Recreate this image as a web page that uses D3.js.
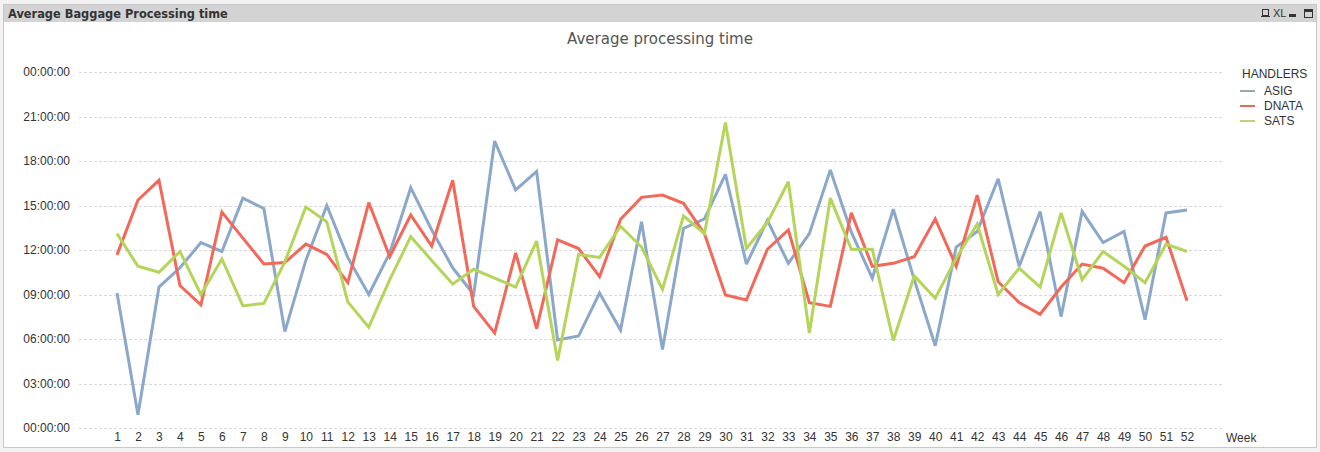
<!DOCTYPE html>
<html><head><meta charset="utf-8">
<script src="https://cdn.jsdelivr.net/npm/d3@7"></script>
<style>
html,body{margin:0;padding:0;background:#f2f2f2;}
svg{display:block;}
</style></head>
<body>
<svg id="c" width="1320" height="452"></svg>
<script>
const weeks = d3.range(1, 53);
const handlers = ["ASIG", "DNATA", "SATS"];
const colors = ["#8ba8cb", "#f2695a", "#b5d55a"];
const legendColors = ["#98a6b6", "#e9685c", "#c3cf7c"];
// values in hours
const asig = [9.1,0.9,9.5,10.8,12.5,11.9,15.5,14.8,6.5,11.3,15.0,11.5,9.0,11.8,16.2,13.35,10.8,9.0,19.35,16.05,17.3,5.93,6.2,9.1,6.6,13.9,5.3,13.45,14.1,17.1,11.05,14.0,11.1,13.1,17.4,13.2,10.1,14.75,10.0,5.55,12.2,13.25,16.8,10.9,14.6,7.5,14.6,12.5,13.25,7.3,14.5,14.7];
const dnata = [11.67,15.37,16.7,9.6,8.3,14.55,12.8,11.06,11.15,12.4,11.7,9.8,15.2,11.55,14.36,12.27,16.7,8.2,6.4,11.8,6.7,12.68,12.1,10.2,14.07,15.55,15.7,15.15,13.1,8.97,8.63,12.05,13.35,8.45,8.2,14.5,10.9,11.1,11.55,14.1,10.9,15.7,9.86,8.45,7.67,9.5,11.05,10.77,9.8,12.27,12.86,8.58];
const sats = [13.1,10.9,10.5,11.9,9.0,11.4,8.23,8.4,11.2,14.9,13.9,8.5,6.8,10.0,12.9,11.3,9.7,10.7,10.1,9.5,12.6,4.55,11.7,11.5,13.6,12.2,9.35,14.3,13.1,20.6,12.1,13.85,16.6,6.4,15.5,12.05,12.05,5.9,10.25,8.75,11.45,13.75,9.0,10.77,9.5,14.5,10.0,11.9,10.9,9.8,12.4,11.9];
const seriesValues = [asig, dnata, sats];
const yTicks = [0,3,6,9,12,15,18,21,24];

const svg = d3.select("#c");
// panel
svg.append("rect").attr("x",3.5).attr("y",4.5).attr("width",1313).attr("height",443)
  .attr("fill","#fff").attr("stroke","#c8c8c8");
svg.append("rect").attr("x",4).attr("y",5).attr("width",1312).attr("height",17).attr("fill","#d3d3d3");
svg.append("text").attr("x",8).attr("y",18).text("Average Baggage Processing time")
  .attr("font-family","DejaVu Sans").attr("font-weight","bold").attr("font-size",11.4).attr("fill","#333");
// window icons
const ic = svg.append("g").attr("fill","none").attr("stroke","#333");
ic.append("rect").attr("x",1262.5).attr("y",9.5).attr("width",6).attr("height",6);
ic.append("line").attr("x1",1261).attr("x2",1270).attr("y1",16.5).attr("y2",16.5);
svg.append("text").attr("x",1273).attr("y",17).text("XL").attr("font-family","Liberation Sans Narrow, Liberation Sans").attr("font-size",11).attr("fill","#333");
svg.append("rect").attr("x",1289).attr("y",14).attr("width",7).attr("height",3).attr("fill","#333");
ic.append("rect").attr("x",1304.5).attr("y",9.5).attr("width",8).attr("height",8);
svg.append("rect").attr("x",1305).attr("y",10).attr("width",7).attr("height",2).attr("fill","#333");

svg.append("text").attr("x",660).attr("y",44).attr("text-anchor","middle").text("Average processing time")
  .attr("font-family","DejaVu Sans").attr("font-size",15).attr("fill","#555");

const x = d3.scalePoint().domain(weeks).range([117,1187]);
const y = d3.scaleLinear().domain([0,24]).range([428,72]);

// grid
svg.append("g").selectAll("line").data(yTicks).join("line")
  .attr("x1",79).attr("x2",1223).attr("y1",d=>Math.round(y(d))+0.5).attr("y2",d=>Math.round(y(d))+0.5)
  .attr("stroke","#d9d9d9").attr("stroke-dasharray","3,2");

const pad = n => String(n).padStart(2,"0");
const yAxis = d3.axisLeft(y).tickValues(yTicks).tickSize(0).tickPadding(0)
  .tickFormat(d => pad(d % 24) + ":00:00");
const ga = svg.append("g").attr("transform","translate(70,0)").call(yAxis);
ga.select(".domain").remove();
ga.selectAll("text").attr("font-family","Liberation Sans").attr("font-size",12).attr("fill","#333");

const xAxis = d3.axisBottom(x).tickSize(0).tickPadding(0);
const gx = svg.append("g").attr("transform","translate(0,432)").call(xAxis);
gx.select(".domain").remove();
gx.selectAll("text").attr("font-family","Liberation Sans").attr("font-size",12).attr("fill","#333").attr("dy","0.71em");
svg.append("text").attr("x",1226).attr("y",442).text("Week").attr("font-family","Liberation Sans").attr("font-size",12).attr("fill","#333");

const line = d3.line().x((d,i)=>x(weeks[i])).y(d=>y(d));
svg.append("g").selectAll("path").data(seriesValues).join("path")
  .attr("d", d=>line(d)).attr("fill","none").attr("stroke",(d,i)=>colors[i])
  .attr("stroke-width",3).attr("stroke-linejoin","miter").attr("stroke-miterlimit",3);

// legend
const lg = svg.append("g");
lg.append("text").attr("x",1242).attr("y",78).text("HANDLERS").attr("font-family","Liberation Sans").attr("font-size",12).attr("fill","#333");
handlers.forEach((h,i)=>{
  const yy = 91 + i*15;
  lg.append("line").attr("x1",1240).attr("x2",1255).attr("y1",yy).attr("y2",yy).attr("stroke",legendColors[i]).attr("stroke-width",2);
  lg.append("text").attr("x",1264).attr("y",yy+4).text(h).attr("font-family","Liberation Sans").attr("font-size",12).attr("fill","#333");
});
</script>
</body></html>
